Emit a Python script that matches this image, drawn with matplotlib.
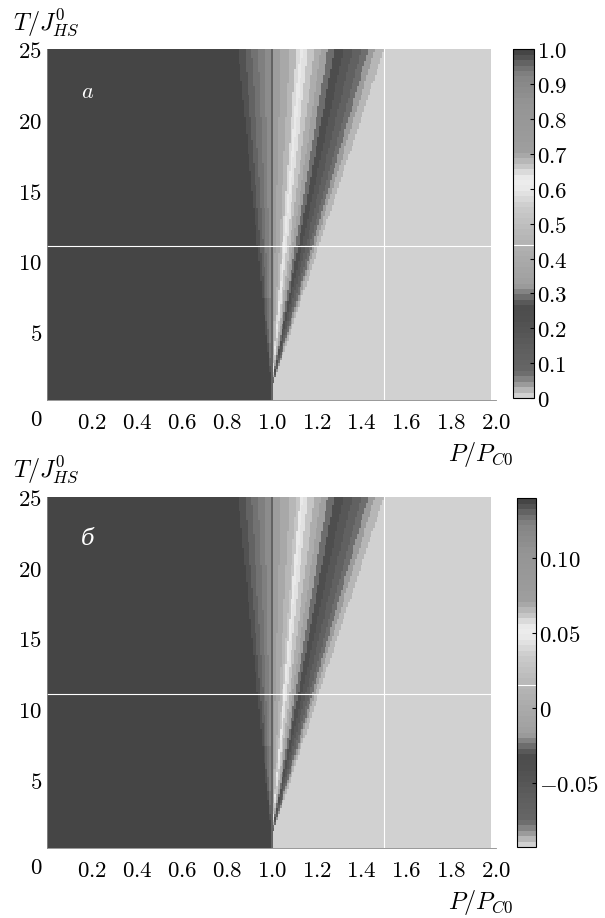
import numpy as np
import matplotlib
matplotlib.use('Agg')
import matplotlib.pyplot as plt
from matplotlib.colors import LinearSegmentedColormap

plt.rcParams['mathtext.fontset'] = 'cm'

# fan of constant-value rays starting at the tip (P=1, T=t_tip);
# band edges are read as P positions at the top row T=25
t_tip = 1.0
t_top = 25.0
band_edges = [0.82, 0.85, 0.88, 0.91, 0.94, 0.97, 0.995, 1.005, 1.04, 1.08,
              1.11, 1.125, 1.14, 1.16, 1.19, 1.22, 1.25, 1.28, 1.32, 1.36,
              1.40, 1.43, 1.46, 1.50]
# value left of first edge, each band, value right of last edge
band_vals_a = [1.0, 0.99, 0.98, 0.965, 0.95, 0.93, 0.88, 0.96, 0.72, 0.70,
               0.68, 0.655, 0.625, 0.59, 0.52, 0.42, 0.33, 0.29, 0.25, 0.18,
               0.12, 0.07, 0.045, 0.025, 0.0]
band_vals_b = [0.140, 0.138, 0.135, 0.132, 0.128, 0.124, 0.112, 0.131, 0.075, 0.070,
               0.065, 0.060, 0.053, 0.045, 0.028, 0.005, -0.016, -0.025, -0.035, -0.051,
               -0.065, -0.077, -0.083, -0.087, -0.093]

xticks = [0.2, 0.4, 0.6, 0.8, 1.0, 1.2, 1.4, 1.6, 1.8, 2.0]
yticks = [5, 10, 15, 20, 25]
cticks_a = [0, 0.1, 0.2, 0.3, 0.4, 0.5, 0.6, 0.7, 0.8, 0.9, 1.0]
cticks_b = [-0.05, 0, 0.05, 0.10]

# grey colour table of the colour bar (fraction, grey level)
cmap_pts = [(0.00, 0.82), (0.015, 0.72), (0.03, 0.62), (0.05, 0.50), (0.07, 0.40),
            (0.15, 0.36), (0.22, 0.31), (0.26, 0.30), (0.29, 0.45), (0.32, 0.62),
            (0.40, 0.67), (0.47, 0.72), (0.55, 0.80), (0.61, 0.93), (0.64, 0.91),
            (0.67, 0.76), (0.71, 0.62), (0.85, 0.58), (0.93, 0.52), (0.96, 0.42),
            (0.985, 0.32), (1.00, 0.27)]
cmap = LinearSegmentedColormap.from_list('fan', [(f, (g, g, g)) for f, g in cmap_pts], N=64)

# grid
p_e = np.arange(-0.004, 1.985, 0.008)
t_e = np.arange(0.2, 25.01, 0.2)
p_c = 0.5 * (p_e[1:] + p_e[:-1])
t_c = 0.5 * (t_e[1:] + t_e[:-1])
P, T = np.meshgrid(p_c, t_c)
dt = np.where(T > t_tip, T - t_tip, 1.0)
p_ray = np.where(T > t_tip, 1 + (P - 1) * (t_top - t_tip) / dt,
                 np.where(P < 0.999, 0.0, np.where(P > 1.001, 2.0, 1.0)))
idx = np.searchsorted(band_edges, p_ray)

FS = 16.5


def panel(ax, cax, vals, vmin, vmax, cticks, cfmt, letter, cline):
    Z = np.asarray(vals)[idx]
    m = ax.pcolormesh(p_e, t_e, Z, cmap=cmap, vmin=vmin, vmax=vmax, shading='flat')
    ax.set_xlim(0, 2.0)
    ax.set_ylim(0.2, 25)
    ax.axhline(11.1, color='white', lw=0.8)
    ax.axvline(1.5, color='white', lw=0.8)
    ax.set_xticks(xticks)
    ax.set_xticklabels(['$%.1f$' % v for v in xticks], fontsize=FS)
    ax.set_yticks(yticks)
    ax.set_yticklabels(['$%d$' % v for v in yticks], fontsize=FS)
    ax.tick_params(axis='x', length=0, pad=8)
    ax.tick_params(axis='y', length=0, pad=4)
    for s in ['top', 'right']:
        ax.spines[s].set_visible(False)
    for s in ['bottom', 'left']:
        ax.spines[s].set_color('#888888')
        ax.spines[s].set_linewidth(0.6)
    ax.text(-0.024, -0.057, '$0$', transform=ax.transAxes, fontsize=FS, ha='center', va='center')
    ax.text(-0.003, 1.078, '$T/J^0_{HS}$', transform=ax.transAxes, fontsize=17.5, ha='center', va='center')
    ax.text(0.965, -0.155, '$P/P_{C0}$', transform=ax.transAxes, fontsize=17.5, ha='center', va='center')
    ax.text(0.18, 22.0, letter[0], color='white', fontsize=16, ha='center', va='center', **letter[1])
    cb = plt.colorbar(m, cax=cax)
    cb.set_ticks(cticks)
    cb.set_ticklabels([cfmt(v) for v in cticks])
    cax.tick_params(direction='in', length=3, width=0.8, labelsize=FS, pad=2)
    cb.outline.set_linewidth(0.8)
    cax.axhline(cline, color='white', lw=0.8)


fig = plt.figure(figsize=(6.05, 9.18), dpi=100)
ax1 = fig.add_axes([0.0785, 0.5643, 0.7413, 0.3818])
cax1 = fig.add_axes([0.848, 0.5664, 0.0347, 0.380])
ax2 = fig.add_axes([0.0785, 0.0763, 0.7413, 0.3824])
cax2 = fig.add_axes([0.8545, 0.0773, 0.0314, 0.380])


def fmt_a(v):
    return '$0$' if v == 0 else '$%.1f$' % v


def fmt_b(v):
    return '$0$' if v == 0 else '$%.2f$' % v


panel(ax1, cax1, band_vals_a, 0.0, 1.0, cticks_a, fmt_a, ('$a$', {}), 0.438)
panel(ax2, cax2, band_vals_b, -0.093, 0.14, cticks_b, fmt_b,
      ('б', {'family': 'DejaVu Serif', 'style': 'italic'}), 0.0153)

fig.savefig('out.png', dpi=100)
